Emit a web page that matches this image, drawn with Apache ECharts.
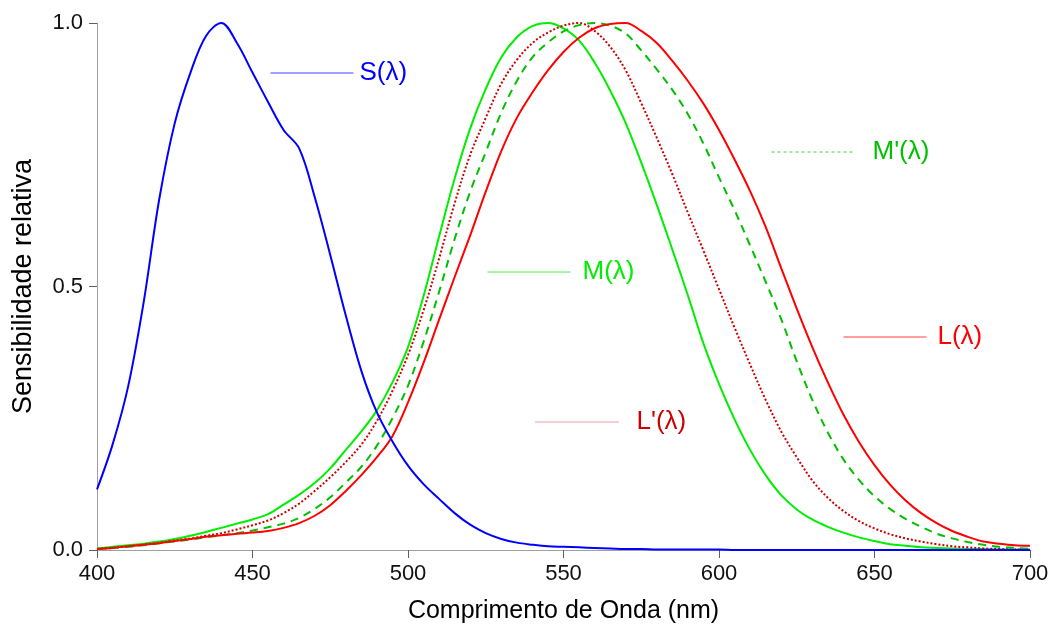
<!DOCTYPE html>
<html><head><meta charset="utf-8">
<script src="https://cdn.jsdelivr.net/npm/echarts@6/dist/echarts.min.js"></script>
<style>html,body{margin:0;padding:0;background:#fff}#c{width:1054px;height:629px}</style>
</head><body><div id="c"></div>
<script>
const wavelengths = [400,405,410,415,420,425,430,435,440,445,450,455,460,465,470,475,480,485,490,495,500,505,510,515,520,525,530,535,540,545,550,555,560,565,570,575,580,585,590,595,600,605,610,615,620,625,630,635,640,645,650,655,660,665,670,675,680,685,690,695,700];

const sValues = [0.115,0.2,0.31,0.47,0.665,0.81,0.905,0.975,1.0,0.962,0.906,0.85,0.797,0.762,0.67,0.56,0.445,0.34,0.261,0.206,0.16,0.125,0.097,0.07,0.048,0.032,0.021,0.014,0.01,0.007,0.006,0.005,0.004,0.003,0.002,0.002,0.001,0.001,0.001,0.001,0.001,0,0,0,0,0,0,0,0,0,0,0,0,0,0,0,0,0,0,0,0];

const mValues = [0.003,0.006,0.009,0.012,0.016,0.021,0.027,0.034,0.042,0.05,0.058,0.068,0.086,0.105,0.127,0.155,0.19,0.225,0.265,0.318,0.385,0.482,0.595,0.705,0.8,0.875,0.935,0.973,0.994,1.0,0.99,0.967,0.925,0.872,0.81,0.735,0.655,0.57,0.483,0.392,0.315,0.248,0.19,0.142,0.104,0.077,0.058,0.044,0.033,0.024,0.017,0.011,0.008,0.005,0.004,0.003,0.002,0.002,0.001,0.001,0.001];

const lPrimeValues = [0.002,0.004,0.007,0.01,0.014,0.018,0.022,0.027,0.032,0.039,0.047,0.056,0.07,0.088,0.112,0.138,0.167,0.2,0.245,0.302,0.37,0.455,0.553,0.658,0.75,0.82,0.885,0.93,0.962,0.982,0.995,1.0,0.985,0.955,0.91,0.848,0.782,0.713,0.64,0.568,0.495,0.422,0.352,0.285,0.225,0.176,0.132,0.099,0.074,0.055,0.041,0.03,0.022,0.016,0.011,0.007,0.005,0.003,0.002,0.001,0.001];

const mPrimeValues = [0.002,0.004,0.006,0.009,0.013,0.016,0.02,0.024,0.028,0.032,0.037,0.043,0.05,0.061,0.078,0.1,0.128,0.158,0.198,0.25,0.312,0.395,0.49,0.59,0.68,0.755,0.83,0.89,0.935,0.963,0.984,0.996,1.0,0.995,0.98,0.948,0.912,0.873,0.827,0.771,0.707,0.645,0.578,0.509,0.438,0.358,0.285,0.223,0.172,0.133,0.102,0.078,0.059,0.044,0.031,0.022,0.015,0.01,0.006,0.004,0.002];

const lValues = [0.002,0.004,0.007,0.01,0.013,0.017,0.021,0.025,0.028,0.031,0.033,0.036,0.042,0.051,0.065,0.085,0.112,0.142,0.176,0.216,0.28,0.355,0.437,0.518,0.597,0.68,0.757,0.82,0.868,0.91,0.945,0.972,0.99,0.998,1.0,0.985,0.962,0.928,0.89,0.847,0.797,0.741,0.681,0.613,0.535,0.458,0.385,0.318,0.257,0.205,0.161,0.124,0.094,0.07,0.051,0.036,0.025,0.016,0.012,0.009,0.008];

const seriesNames = ['S(λ)', 'M(λ)', 'L(λ)', "M'(λ)", "L'(λ)"];
const xTicks = [400, 450, 500, 550, 600, 650, 700];
const yTicks = [0.0, 0.5, 1.0];

function pairs(vals) { return wavelengths.map((w, i) => [w, vals[i]]); }

const FONT = 'Liberation Sans';
const colS = '#0000ff', colM = '#00ee00', colMp = '#00c000', colL = '#ff0000', colLp = '#cc0000';

function mkLegend(name, left, lineY, color, gap, lineType) {
  return {
    data: [name], left: left, top: lineY - 12, orient: 'horizontal',
    padding: 0, itemWidth: 83, itemHeight: 32, selectedMode: false,
    itemStyle: { opacity: 0, borderWidth: 0 },
    lineStyle: { width: 1, type: lineType, opacity: 0.75 },
    textStyle: { color: color, fontSize: 26, fontFamily: FONT, padding: [0, 0, 0, gap] }
  };
}

const chart = echarts.init(document.getElementById('c'), null, { renderer: 'canvas' });
chart.setOption({
  animation: false,
  backgroundColor: '#ffffff',
  grid: { left: 97, right: 24, top: 23, bottom: 77, containLabel: false },
  legend: [
    mkLegend(seriesNames[0], 270, 72, colS, 1, 'solid'),
    mkLegend(seriesNames[3], 771, 151, colMp, 13, [3, 3]),
    mkLegend(seriesNames[1], 487, 271, colM, 7, 'solid'),
    mkLegend(seriesNames[2], 843, 336, colL, 6, 'solid'),
    mkLegend(seriesNames[4], 535, 421, colLp, 13, [1, 1])
  ],
  xAxis: {
    type: 'value', min: 400, max: 700, interval: 50,
    name: 'Comprimento de Onda (nm)', nameLocation: 'middle', nameGap: 49,
    nameTextStyle: { fontSize: 25, fontFamily: FONT, color: '#000' },
    axisLine: { show: true, lineStyle: { color: '#a0a0a0', width: 1 } },
    axisTick: { show: true, length: 8, lineStyle: { color: '#606060' } },
    axisLabel: { fontSize: 22, fontFamily: FONT, color: '#111', margin: 13,
      formatter: v => xTicks.includes(v) ? String(v) : '' },
    splitLine: { show: false }
  },
  yAxis: {
    type: 'value', min: 0, max: 1, interval: 0.5,
    name: 'Sensibilidade relativa', nameLocation: 'middle', nameGap: 60,
    nameTextStyle: { fontSize: 27, fontFamily: FONT, color: '#000' },
    axisLine: { show: true, lineStyle: { color: '#a0a0a0', width: 1 } },
    axisTick: { show: true, length: 8, lineStyle: { color: '#606060' } },
    axisLabel: { fontSize: 22, fontFamily: FONT, color: '#111', margin: 14,
      formatter: v => { const t = yTicks.find(y => Math.abs(y - v) < 1e-9); return t === undefined ? '' : t.toFixed(1); } },
    splitLine: { show: false }
  },
  series: [
    { name: seriesNames[1], type: 'line', data: pairs(mValues), symbol: 'none', smooth: 0.35,
      lineStyle: { color: colM, width: 2 }, itemStyle: { color: colM } },
    { name: seriesNames[4], type: 'line', data: pairs(lPrimeValues), symbol: 'none', smooth: 0.35,
      lineStyle: { color: colLp, width: 2, type: [2, 2] }, itemStyle: { color: colLp } },
    { name: seriesNames[3], type: 'line', data: pairs(mPrimeValues), symbol: 'none', smooth: 0.35,
      lineStyle: { color: colMp, width: 2, type: [8, 6] }, itemStyle: { color: colMp } },
    { name: seriesNames[2], type: 'line', data: pairs(lValues), symbol: 'none', smooth: 0.35,
      lineStyle: { color: colL, width: 2 }, itemStyle: { color: colL } },
    { name: seriesNames[0], type: 'line', data: pairs(sValues), symbol: 'none', smooth: 0.35,
      lineStyle: { color: colS, width: 2 }, itemStyle: { color: colS } }
  ]
});
</script>
</body></html>
